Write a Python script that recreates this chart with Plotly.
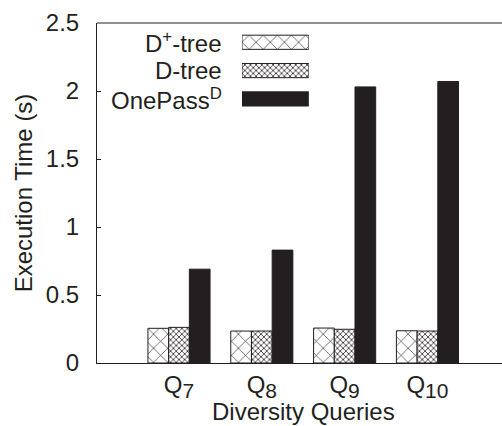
import plotly.graph_objects as go

# Query categories and measured execution times (seconds)
queries = ["Q<sub><span style='font-size:21px'>7</span></sub>",
           "Q<sub><span style='font-size:21px'>8</span></sub>",
           "Q<sub><span style='font-size:21px'>9</span></sub>",
           "Q<sub><span style='font-size:21px'>10</span></sub>"]
dplus_tree = [0.255, 0.235, 0.257, 0.237]
d_tree = [0.262, 0.235, 0.248, 0.235]
onepass_d = [0.69, 0.83, 2.03, 2.07]

series_names = ["D<sup>+</sup>-tree", "D-tree", "OnePass<sup>D</sup>"]
y_ticks = [0, 0.5, 1, 1.5, 2, 2.5]
y_tick_text = ["0", "0.5", "1", "1.5", "2", "2.5"]

FONT = "Liberation Sans, Arial, Helvetica, sans-serif"
INK = "#231f20"
FS = 24

styles = [
    dict(pattern=dict(shape="x", size=10, solidity=0.12, fgcolor=INK, bgcolor="white", fillmode="replace")),
    dict(pattern=dict(shape="x", size=4, solidity=0.35, fgcolor=INK, bgcolor="white", fillmode="replace")),
    dict(pattern=dict(shape="", fgcolor=INK, bgcolor=INK)),
]
fills = ["white", "white", INK]

fig = go.Figure()
for name, vals, st, fc in zip(series_names, [dplus_tree, d_tree, onepass_d], styles, fills):
    fig.add_trace(go.Bar(
        x=queries, y=vals, name=name, showlegend=False,
        marker=dict(color=fc, line=dict(color=INK, width=1), **st),
    ))

# Legend swatches: small horizontal bars on their own axes, text to their left
for name, st, fc in zip(series_names, styles, fills):
    fig.add_trace(go.Bar(
        x=[1], y=[name], orientation="h", xaxis="x2", yaxis="y2",
        width=0.5, showlegend=False, hoverinfo="skip",
        marker=dict(color=fc, line=dict(color=INK, width=1), **st),
    ))
    fig.add_annotation(
        x=0.3136, xref="paper", y=name, yref="y2",
        text=name, showarrow=False, xanchor="right", yanchor="middle",
        font=dict(family=FONT, size=FS, color=INK),
    )

# x-axis title, centred on the full frame width
fig.add_annotation(
    x=0.511, xref="paper", y=-0.142, yref="paper",
    text="Diversity Queries", showarrow=False, xanchor="center", yanchor="middle",
    font=dict(family=FONT, size=FS, color=INK),
)

fig.update_layout(
    width=502, height=426,
    margin=dict(l=97, r=0, t=23, b=63),
    paper_bgcolor="white", plot_bgcolor="white",
    barmode="group", bargap=0.25, bargroupgap=0,
    font=dict(family=FONT, size=FS, color=INK),
    xaxis=dict(
        type="category", range=[-0.99, 3.9],
        showline=True, linecolor=INK, linewidth=1,
        ticks="", showgrid=False, zeroline=False,
        tickfont=dict(size=FS),
    ),
    yaxis=dict(
        range=[0, 2.5], tickvals=y_ticks, ticktext=y_tick_text,
        showline=True, linecolor=INK, linewidth=1,
        ticks="inside", ticklen=4, tickcolor=INK,
        showgrid=False, zeroline=False,
        ticklabelstandoff=12,
        tickfont=dict(size=FS),
        title=dict(text="Execution Time (s)", font=dict(size=FS), standoff=6),
    ),
    xaxis2=dict(domain=[0.358, 0.523], range=[0, 1], anchor="y2",
                visible=False, fixedrange=True),
    yaxis2=dict(domain=[0.735, 0.985], range=[-0.5, 2.5], anchor="x2", type="category",
                categoryorder="array", categoryarray=series_names[::-1],
                visible=False, fixedrange=True),
    shapes=[dict(type="line", xref="paper", yref="paper", x0=0, x1=1, y0=1, y1=1,
                 line=dict(color=INK, width=1))],
)

fig.write_html("out.html")
